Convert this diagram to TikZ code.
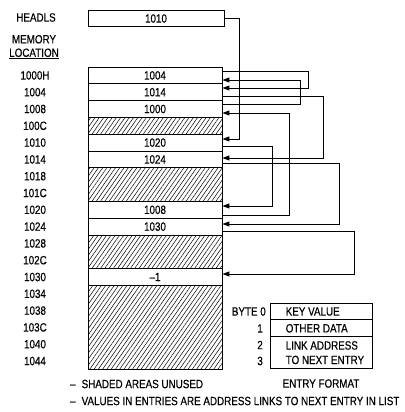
\documentclass[tikz,border=0pt]{standalone}
\usepackage{fontspec}
\setmainfont{Liberation Sans}[FakeStretch=0.82, FakeBold=0.4]
\usepackage{tikz}
\usetikzlibrary{arrows.meta, positioning, patterns.meta}

\tikzset{
  entry/.style={draw, line width=0.9pt, minimum width=134pt, minimum height=16.8pt, inner sep=0pt},
  unused/.style={entry, pattern={Lines[angle=55, distance=3.5pt, line width=0.5pt]}},
  link/.style={line width=1pt, -{Triangle[length=7pt, width=5pt, fill=black]}},
  fmt/.style={draw, line width=0.9pt, minimum width=102pt, inner sep=0pt},
  addr/.style={inner sep=0pt}
}

\begin{document}
\begin{tikzpicture}[x=1pt, y=-1pt, font=\fontsize{12}{13.5}\selectfont]
            \useasboundingbox (0,0) rectangle (404,412);

            % --- list head ---
            \node (hl) at (36,17.5) {HEADLS};
            \node[entry, minimum width=136pt, minimum height=16pt] (head) at (156,18.5) {1010};
            \node[align=center, inner sep=0pt] (memloc) at (34,47) {MEMORY\\[0pt]\underline{LOCATION}};

            % --- address column ---
            \node[addr] (l1000) at (35,75.4) {1000H};
            \node[addr] (l1004) at (35,92.2) {1004};
            \node[addr] (l1008) at (35,109) {1008};
            \node[addr] (l100C) at (35,125.8) {100C};
            \node[addr] (l1010) at (35,142.6) {1010};
            \node[addr] (l1014) at (35,159.4) {1014};
            \node[addr] (l1018) at (35,176.2) {1018};
            \node[addr] (l101C) at (35,193) {101C};
            \node[addr] (l1020) at (35,209.8) {1020};
            \node[addr] (l1024) at (35,226.6) {1024};
            \node[addr] (l1028) at (35,243.4) {1028};
            \node[addr] (l102C) at (35,260.2) {102C};
            \node[addr] (l1030) at (35,277) {1030};
            \node[addr] (l1034) at (35,293.8) {1034};
            \node[addr] (l1038) at (35,310.6) {1038};
            \node[addr] (l103C) at (35,327.4) {103C};
            \node[addr] (l1040) at (35,344.2) {1040};
            \node[addr] (l1044) at (35,361) {1044};

            % --- memory contents ---
            \node[entry] (r1000) at (155,75.4) {1004};
            \node[entry] (r1004) at (155,92.2) {1014};
            \node[entry] (r1008) at (155,109) {1000};
            \node[unused] (r100C) at (155,125.8) {};
            \node[entry] (r1010) at (155,142.6) {1020};
            \node[entry] (r1014) at (155,159.4) {1024};
            \node[unused, minimum height=33.6pt] (r1018) at (155,184.6) {};
            \node[entry] (r1020) at (155,209.8) {1008};
            \node[entry] (r1024) at (155,226.6) {1030};
            \node[unused, minimum height=33.6pt] (r1028) at (155,251.8) {};
            \node[entry] (r1030) at (155,277) {--1};
            \node[unused, minimum height=84pt] (r1034) at (155,327.4) {};

            % --- links to next entry ---
            \draw[link] (head.east) -- ++(15,0) |- ([yshift=3.6pt]r1010.east);
            \draw[link] ([yshift=4.4pt]r1000.east) -- ++(86,0) |- ([yshift=4.2pt]r1004.east);
            \draw[link] ([yshift=-4.5pt]r1004.east) -- ++(101,0) |- ([yshift=1.4pt]r1014.east);
            \draw[link] ([yshift=5pt]r1008.east) -- ++(78,0) |- ([yshift=-4.6pt]r1000.east);
            \draw[link] ([yshift=-4.1pt]r1010.east) -- ++(50,0) |- ([yshift=3.8pt]r1020.east);
            \draw[link] ([yshift=-3.6pt]r1014.east) -- ++(117,0) |- ([yshift=2.6pt]r1024.east);
            \draw[link] ([yshift=-5.2pt]r1020.east) -- ++(67,0) |- ([yshift=-4pt]r1008.east);
            \draw[link] ([yshift=-4.4pt]r1024.east) -- ++(132,0) |- ([yshift=3pt]r1030.east);

            % --- entry format ---
            \node[fmt, minimum height=16.8pt] (f0) at (321,311.5) {};
            \node[fmt, minimum height=16.8pt] (f1) at (321,328.3) {};
            \node[fmt, minimum height=32pt] (f2) at (321,352.7) {};
            \node[anchor=west, inner sep=0pt] (t0) at ([xshift=16pt]f0.west) {KEY VALUE};
            \node[anchor=west, inner sep=0pt] (t1) at ([xshift=16pt]f1.west) {OTHER DATA};
            \node[anchor=west, align=left, inner sep=0pt] (t2) at ([xshift=16pt]f2.west) {LINK ADDRESS\\[1pt]TO NEXT ENTRY};
            \node[anchor=east, inner sep=0pt] (b0) at (266,311.5) {BYTE 0};
            \node[anchor=east, inner sep=0pt] (b1) at (263,328.5) {1};
            \node[anchor=east, inner sep=0pt] (b2) at (263,345) {2};
            \node[anchor=east, inner sep=0pt] (b3) at (263,361) {3};
            \node (ftitle) at (321,383.5) {ENTRY FORMAT};

            % --- notes ---
            \node[anchor=west, inner sep=0pt] (n1) at (70,384) {--\enspace SHADED AREAS UNUSED};
            \node[anchor=west, inner sep=0pt] (n2) at (70,401) {--\enspace VALUES IN ENTRIES ARE ADDRESS LINKS TO NEXT ENTRY IN LIST};

        \end{tikzpicture}
\end{document}
